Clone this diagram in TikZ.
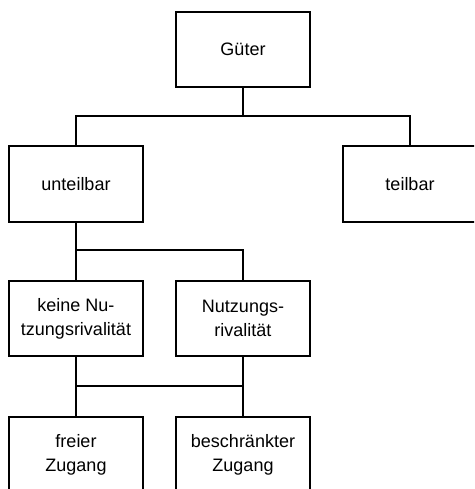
\documentclass[tikz,border=0pt]{standalone}
\usepackage{fontspec}
\setmainfont{Liberation Sans}
\begin{document}
\begin{tikzpicture}[x=1pt,y=-1pt,
  box/.style={draw, line width=2pt, align=center, minimum width=134pt, minimum height=75.5pt,
    inner sep=0pt, font=\fontsize{18}{24}\selectfont},
  conn/.style={line width=2pt}]
\useasboundingbox (0,0) rectangle (474,489);
\clip (0,0) rectangle (474,489);
\node[box] (g) at (243,49.5) {Güter};
\node[box] (u) at (76,184) {unteilbar};
\node[box] (t) at (410,184) {teilbar};
\node[box] (k) at (76,318.5) {keine Nu-\\tzungsrivalität};
\node[box] (n) at (243,318.5) {Nutzungs-\\rivalität};
\node[box] (f) at (76,455) {freier\\Zugang};
\node[box] (b) at (243,455) {beschränkter\\Zugang};
\coordinate (j1) at (243,116);
\coordinate (j2) at (76,250);
\coordinate (j3) at (76,386);
\coordinate (j4) at (243,386);
\draw[conn] (g.south) -- (j1);
\draw[conn] (u.north) |- (j1) -| (t.north);
\draw[conn] (u.south) -- (k.north);
\draw[conn] (j2) -| (n.north);
\draw[conn] (k.south) -- (f.north);
\draw[conn] (n.south) -- (b.north);
\draw[conn] (j3) -- (j4);
\end{tikzpicture}
\end{document}
